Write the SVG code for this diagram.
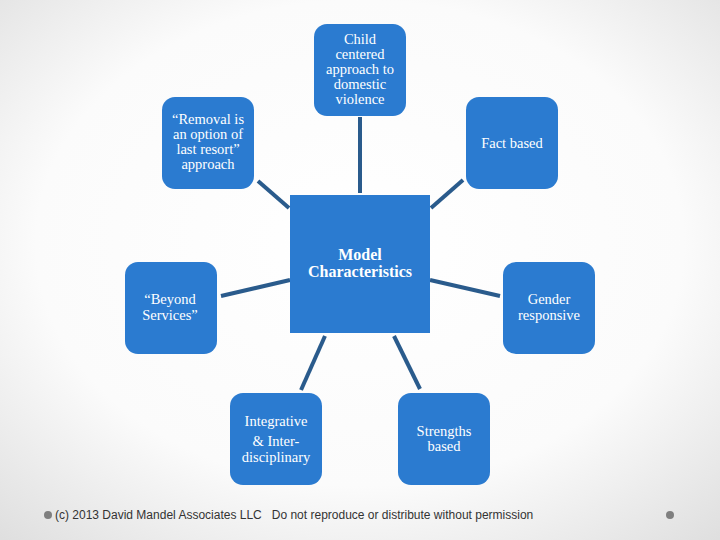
<svg xmlns="http://www.w3.org/2000/svg" width="720" height="540" viewBox="0 0 720 540">
<defs>
<radialGradient id="bg" cx="50%" cy="45%" r="75%">
<stop offset="0" stop-color="#ffffff"/>
<stop offset="0.6" stop-color="#fbfbfb"/>
<stop offset="1" stop-color="#dedede"/>
</radialGradient>
<style>
.box{fill:#2b7bd0;}
.t{font-family:"Liberation Serif","DejaVu Serif",serif;font-size:14.5px;fill:#ffffff;text-anchor:middle;}
.b{font-weight:bold;font-size:16px;}
.c{stroke:#2a5b8c;stroke-width:4;fill:none;}
.f{font-family:"Liberation Sans",Arial,sans-serif;font-size:12px;fill:#333333;}
.dot{fill:#7f7f7f;}
</style>
</defs>
<rect width="720" height="540" fill="url(#bg)"/>
<g id="connectors">
<line class="c" x1="360" y1="117" x2="360" y2="193"/>
<line class="c" x1="258" y1="181" x2="289" y2="208"/>
<line class="c" x1="463" y1="180" x2="431" y2="208"/>
<line class="c" x1="221" y1="296" x2="290" y2="280"/>
<line class="c" x1="500" y1="296" x2="430" y2="280"/>
<line class="c" x1="325" y1="336" x2="301" y2="390"/>
<line class="c" x1="394" y1="336" x2="420" y2="389"/>
</g>
<g id="child">
<rect class="box" x="314" y="24" width="92" height="92" rx="13"/>
<text class="t" x="360" y="44">Child</text>
<text class="t" x="360" y="59">centered</text>
<text class="t" x="360" y="74">approach to</text>
<text class="t" x="360" y="89">domestic</text>
<text class="t" x="360" y="104">violence</text>
</g>
<g id="removal">
<rect class="box" x="162" y="97" width="92" height="92" rx="13"/>
<text class="t" x="208" y="124">“Removal is</text>
<text class="t" x="208" y="139">an option of</text>
<text class="t" x="208" y="154">last resort”</text>
<text class="t" x="208" y="169">approach</text>
</g>
<g id="fact">
<rect class="box" x="466" y="97" width="92" height="92" rx="13"/>
<text class="t" x="512" y="148">Fact based</text>
</g>
<g id="center">
<rect class="box" x="290" y="195" width="140" height="138"/>
<text class="t b" x="360" y="260">Model</text>
<text class="t b" x="360" y="277">Characteristics</text>
</g>
<g id="beyond">
<rect class="box" x="125" y="262" width="92" height="92" rx="13"/>
<text class="t" x="170" y="304">“Beyond</text>
<text class="t" x="170" y="320">Services”</text>
</g>
<g id="gender">
<rect class="box" x="503" y="262" width="92" height="92" rx="13"/>
<text class="t" x="549" y="304">Gender</text>
<text class="t" x="549" y="320">responsive</text>
</g>
<g id="integrative">
<rect class="box" x="230" y="393" width="92" height="92" rx="13"/>
<text class="t" x="276" y="426">Integrative</text>
<text class="t" x="276" y="446">&amp; Inter-</text>
<text class="t" x="276" y="462">disciplinary</text>
</g>
<g id="strengths">
<rect class="box" x="398" y="393" width="92" height="92" rx="13"/>
<text class="t" x="444" y="436">Strengths</text>
<text class="t" x="444" y="451">based</text>
</g>
<g id="footer">
<circle class="dot" cx="48" cy="515" r="4"/>
<text class="f" x="55" y="519" xml:space="preserve">(c) 2013 David Mandel Associates LLC   Do not reproduce or distribute without permission</text>
<circle class="dot" cx="670" cy="515" r="4"/>
</g>
</svg>
